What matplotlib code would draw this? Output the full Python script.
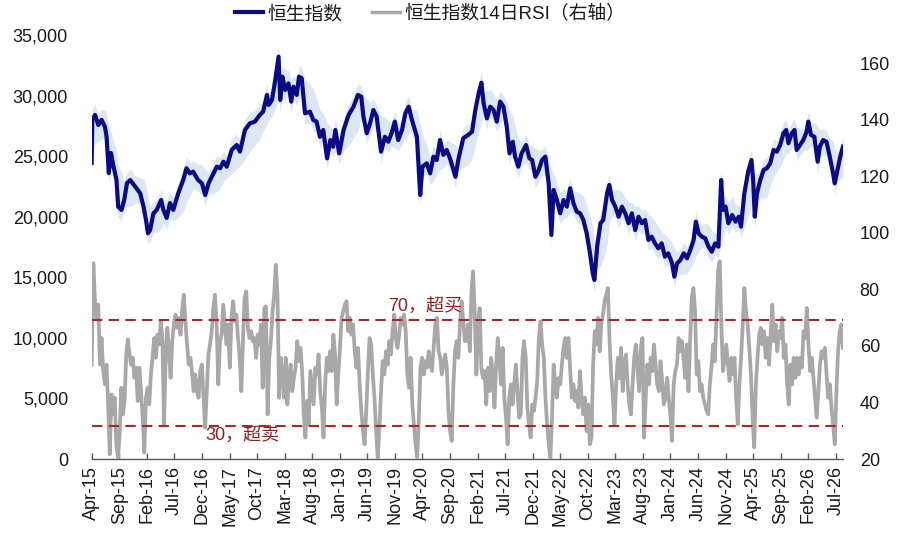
import numpy as np
import pandas as pd
import matplotlib
matplotlib.use("Agg")
import matplotlib.pyplot as plt
from matplotlib.ticker import FuncFormatter
from matplotlib.lines import Line2D

# ---------------- data ----------------
# x axis: months since Apr-2015
tick_labels = ['Apr-15', 'Sep-15', 'Feb-16', 'Jul-16', 'Dec-16', 'May-17', 'Oct-17',
               'Mar-18', 'Aug-18', 'Jan-19', 'Jun-19', 'Nov-19', 'Apr-20', 'Sep-20',
               'Feb-21', 'Jul-21', 'Dec-21', 'May-22', 'Oct-22', 'Mar-23', 'Aug-23',
               'Jan-24', 'Jun-24', 'Nov-24', 'Apr-25', 'Sep-25', 'Feb-26', 'Jul-26']
tick_step_months = 5
end_month = 136.3

# Hang Seng Index (sampled)
hsi_month = [0.0, 0.1, 0.6, 1.2, 1.8, 2.4, 2.7, 3.1, 3.5, 3.9, 4.5, 4.8, 5.4, 5.9, 6.4, 7.0,
             7.9, 8.8, 9.4, 9.9, 10.2, 10.6, 11.2, 11.8, 12.6, 13.0, 13.6, 14.2, 14.8, 15.7,
             16.6, 17.2, 17.8, 18.4, 19.3, 20.0, 20.6, 21.2, 22.1, 22.7, 23.3, 23.9, 24.5,
             25.4, 26.3, 26.9, 27.8, 28.7, 29.6, 30.5, 31.1, 31.8, 32.1, 32.7, 33.3, 33.9,
             34.2, 34.6, 35.1, 35.7, 36.2, 36.6, 37.2, 37.6, 38.1, 38.7, 39.6, 40.2, 40.8,
             41.4, 42.0, 42.7, 43.3, 43.8, 44.2, 44.9, 45.7, 46.6, 47.5, 48.3, 48.9, 49.3,
             49.9, 50.5, 51.1, 51.7, 52.5, 53.2, 53.8, 54.4, 55.0, 55.6, 56.3, 56.9, 57.5,
             58.1, 59.0, 59.6, 60.0, 60.8, 61.4, 62.0, 62.6, 63.2, 63.8, 64.4, 65.0, 66.0,
             66.5, 67.4, 68.3, 69.0, 69.6, 70.2, 70.7, 71.1, 71.7, 72.3, 72.9, 73.5, 74.1,
             74.7, 75.3, 75.8, 76.4, 76.8, 77.4, 78.0, 78.8, 79.4, 79.9, 80.5, 81.1, 81.7,
             82.3, 82.9, 83.4, 83.8, 84.4, 85.0, 85.6, 86.2, 86.8, 87.4, 88.0, 88.6, 89.2,
             89.8, 90.4, 90.9, 91.2, 91.7, 92.3, 92.8, 93.5, 93.9, 94.4, 95.0, 95.6, 96.2,
             96.8, 97.4, 98.0, 98.6, 99.2, 99.8, 100.4, 101.0, 101.6, 102.2, 102.8, 103.4,
             104.0, 104.6, 105.3, 105.7, 106.2, 106.8, 107.4, 108.0, 108.6, 109.2, 109.6,
             110.1, 110.7, 111.3, 111.9, 112.5, 113.1, 113.7, 114.2, 114.5, 115.0, 115.5,
             116.2, 116.8, 117.4, 117.8, 118.4, 119.1, 119.7, 120.0, 120.3, 120.7, 121.3,
             121.9, 122.5, 123.1, 123.7, 124.3, 124.9, 125.5, 126.0, 126.4, 127.0, 127.5,
             127.9, 128.5, 129.1, 129.7, 130.0, 130.5, 131.1, 131.7, 132.1, 132.7, 133.3,
             133.9, 134.5, 134.8, 135.3, 135.8, 136.3]
hsi_value = [24430, 27990, 28400, 27570, 27990, 27430, 26600, 23600, 25260, 24270, 23030,
             20830, 20560, 21380, 22780, 23030, 22480, 21930, 20830, 19590, 18630, 18900,
             20280, 20560, 21380, 20560, 19900, 21130, 20560, 21930, 23030, 24000, 23580,
             23720, 23030, 22760, 21790, 22760, 23580, 24130, 24000, 24540, 24130, 25510,
             25920, 25370, 27160, 27710, 27850, 28400, 28670, 30050, 29220, 29630, 31290,
             33210, 29630, 31560, 30460, 31010, 29500, 30730, 30050, 31560, 31430, 28540,
             28670, 27990, 27850, 26600, 27160, 24820, 26330, 25780, 27160, 25230, 27160,
             28400, 29080, 30050, 29910, 28260, 26890, 27710, 28810, 28260, 25370, 26600,
             26190, 26890, 27850, 26330, 27160, 28540, 29080, 27990, 26600, 21790, 24130,
             24410, 23580, 24960, 24680, 26330, 25100, 25510, 24820, 23300, 24680, 26470,
             26750, 27020, 28810, 30190, 31060, 29360, 28120, 29080, 28810, 27850, 29500,
             29080, 27430, 25230, 26190, 24960, 24130, 25230, 25920, 24820, 24680, 23300,
             23860, 24680, 24960, 22760, 18490, 22210, 21380, 20280, 21380, 20830, 22350,
             21110, 20420, 20280, 19730, 18630, 16980, 15330, 14780, 17530, 19460, 19730,
             21930, 22620, 21380, 20830, 20000, 20830, 20280, 19460, 20280, 18900, 20000,
             19460, 19730, 18080, 18350, 17800, 17390, 17800, 16700, 16980, 16150, 15050,
             16150, 16430, 16980, 16570, 17250, 18080, 19590, 18630, 18350, 18220, 17530,
             17110, 17800, 17530, 23030, 20560, 20830, 19460, 20140, 19590, 20000, 19180,
             21930, 23720, 24680, 23030, 20000, 21930, 23030, 23860, 24000, 24410, 25510,
             25370, 25920, 26890, 27160, 26060, 26890, 27160, 25510, 25920, 26330, 27020,
             27850, 26750, 26600, 24540, 25780, 26330, 26190, 24960, 23580, 22760, 23860,
             24960, 25780]

# 14-day RSI (evenly sampled over the whole period)
rsi_2015_2018 = [53.4, 89.3, 75.8, 69.9, 74.6, 53.4, 62.8, 51.1, 46.4, 53.4, 39.3, 21.7, 42.9,
                 35.8, 41.7, 25.2, 20.5, 28.8, 45.2, 35.8, 40.5, 57.0, 62.3, 57.0, 53.4, 55.8,
                 48.7, 52.3, 40.5, 52.3, 44.0, 34.6, 22.3, 41.7, 45.2, 39.3, 49.9, 55.8, 62.8,
                 55.8, 64.0, 60.5, 68.7, 62.8, 32.3, 55.8, 66.4, 58.1, 48.7, 61.7, 67.6, 71.1,
                 66.4, 69.9, 64.0, 72.3, 78.1, 68.7, 60.5, 53.4, 55.8, 51.1, 44.0, 49.9, 44.0,
                 41.7, 51.1, 53.4, 41.7, 31.1, 44.0, 57.0, 60.5, 65.2, 73.4, 78.1, 67.6, 46.4,
                 61.7, 64.0, 74.6, 67.6, 60.5, 67.6, 52.3, 69.9, 75.8, 68.7, 71.1, 62.8, 55.8,
                 44.0, 61.7, 77.0, 79.3, 66.4, 62.8, 65.2, 61.7, 62.8, 55.8, 64.0, 60.5, 67.6,
                 45.2, 73.4, 74.0, 35.8, 55.8, 61.7, 72.3, 78.1]
rsi_2018_2020 = [88.7, 78.1, 41.7, 55.8, 49.9, 41.7, 55.8, 39.3, 48.7, 53.4, 44.0, 48.7, 52.3,
                 61.7, 54.6, 59.3, 51.1, 35.8, 27.6, 40.5, 32.3, 51.1, 45.2, 39.3, 52.3, 49.9,
                 57.0, 44.0, 38.2, 27.6, 46.4, 55.8, 51.1, 58.1, 51.1, 64.0, 57.0, 39.3, 49.9,
                 59.3, 69.9, 72.3, 74.6, 75.8, 65.2, 69.9, 64.0, 67.6, 58.1, 52.3, 59.3, 46.4,
                 37.0, 29.9, 25.2, 37.0, 51.1, 62.8, 60.5, 49.9, 41.7, 29.9, 20.5, 31.1, 44.0,
                 54.6, 49.9, 58.1, 53.4, 61.7, 57.0, 65.2, 71.1, 62.8, 59.3, 64.0, 69.9, 67.6,
                 71.1, 65.2, 49.9, 45.2, 55.8, 39.3, 32.3, 25.2, 20.5, 34.6, 52.3, 55.8, 49.9,
                 54.6, 52.3, 58.1, 53.4, 51.1, 59.3, 67.6, 69.9, 58.1, 55.8, 49.9, 53.4, 57.0,
                 52.3, 37.0, 29.9, 26.4, 46.4, 58.1, 61.7, 55.8, 67.6, 75.8, 68.7, 61.7]
rsi_2020_2023 = [61.7, 67.6, 58.1, 79.3, 86.4, 71.1, 49.9, 67.6, 73.4, 52.3, 48.7, 51.1, 39.3,
                 52.3, 44.0, 55.8, 48.7, 38.2, 53.4, 62.8, 55.8, 46.4, 59.3, 41.7, 34.6, 25.2,
                 41.7, 46.4, 39.3, 46.4, 53.4, 44.0, 34.6, 35.8, 55.8, 61.7, 55.8, 38.2, 32.3,
                 27.6, 39.3, 37.0, 41.7, 47.6, 62.8, 68.7, 60.5, 55.8, 41.7, 32.3, 25.2, 20.5,
                 34.6, 53.4, 46.4, 41.7, 48.7, 46.4, 53.4, 59.3, 62.8, 55.8, 62.8, 52.3, 41.7,
                 46.4, 40.5, 44.0, 38.2, 51.1, 41.7, 35.8, 41.7, 29.9, 39.3, 25.2, 27.6, 53.4,
                 65.2, 60.5, 69.9, 58.1, 67.6, 71.1, 75.8, 78.1, 80.5, 61.7, 49.9, 41.7, 32.3,
                 46.4, 55.8, 48.7, 59.3, 44.0, 53.4, 57.0, 46.4, 39.3, 35.8, 46.4, 55.8, 60.5,
                 52.3, 44.0, 59.3, 62.8, 27.6, 41.7, 53.4, 46.4, 55.8, 51.1, 60.5, 53.4, 46.4]
rsi_2023_2026 = [44.0, 54.6, 47.6, 39.3, 41.7, 48.7, 41.7, 35.8, 26.4, 46.4, 51.1, 53.4, 62.8,
                 58.1, 61.7, 55.8, 48.7, 60.5, 44.0, 61.7, 77.0, 80.5, 72.3, 49.9, 54.6, 44.0,
                 46.4, 41.7, 39.3, 37.0, 35.8, 46.4, 52.3, 60.5, 54.6, 69.9, 86.4, 90.0, 67.6,
                 51.1, 55.8, 60.5, 53.4, 47.6, 55.8, 49.9, 55.8, 41.7, 32.3, 46.4, 55.8, 67.6,
                 80.5, 72.3, 67.6, 59.3, 49.9, 34.6, 24.1, 46.4, 55.8, 64.0, 66.4, 60.5, 65.2,
                 55.8, 62.8, 53.4, 64.0, 74.6, 61.7, 67.6, 58.1, 65.2, 62.8, 69.9, 55.8, 60.5,
                 46.4, 39.3, 53.4, 46.4, 55.8, 48.7, 55.8, 49.9, 55.8, 52.3, 65.2, 62.8, 73.4,
                 60.5, 51.1, 55.8, 48.7, 41.7, 34.6, 44.0, 53.4, 58.1, 55.8, 59.3, 49.9, 41.7,
                 46.4, 38.2, 32.3, 25.2, 44.0, 58.1, 65.2, 67.6, 59.3]

overbought_level = 69.0
oversold_level = 31.6
overbought_text = '70，超买'
oversold_text = '30，超卖'
legend_labels = ['恒生指数', '恒生指数14日RSI（右轴）']

# ---------------- style ----------------
plt.rcParams['font.family'] = ['Liberation Sans', 'Noto Sans CJK SC', 'DejaVu Sans']
NAVY = '#0b0b85'
BAND = '#dde6f3'
GREY = '#a8a8a8'
RED = '#a52a2a'
TXT = '#1a1a1a'
FS = 13

fig = plt.figure(figsize=(9.0, 5.49), dpi=100)
ax = fig.add_axes([91.7 / 900, 1 - 459 / 549, (843 - 91.7) / 900, (459 - 35) / 549])
ax2 = ax.twinx()

# lagging envelope band around the index
hsi = pd.Series(hsi_value, dtype=float)
lag = hsi.rolling(5, min_periods=1).mean()
upper = np.maximum(hsi, lag) + 900
lower = np.minimum(hsi, lag) - 900
ax.fill_between(hsi_month, lower, upper, color=BAND, lw=0, zorder=1)
ax.plot(hsi_month, hsi_value, color=NAVY, lw=3.0, solid_joinstyle='round', zorder=3)

rsi = np.array(rsi_2015_2018 + rsi_2018_2020 + rsi_2020_2023 + rsi_2023_2026)
rsi_month = np.linspace(0, end_month, len(rsi))
ax2.plot(rsi_month, rsi, color=GREY, lw=2.7, solid_joinstyle='round', zorder=2)
ax2.axhline(overbought_level, color=RED, lw=1.5, ls=(0, (5, 3)), zorder=4)
ax2.axhline(oversold_level, color=RED, lw=1.5, ls=(0, (5, 3)), zorder=4)
ax2.text(60.5, 73.6, overbought_text, color='#8e1f1f', fontsize=FS, ha='center', va='center')
ax2.text(27.3, 28.0, oversold_text, color='#8e1f1f', fontsize=FS, ha='center', va='center')

ax.set_xlim(0, end_month)
ax.set_ylim(0, 35000)
ax2.set_ylim(20, 170)
ax.set_yticks(np.arange(0, 35001, 5000))
ax.yaxis.set_major_formatter(FuncFormatter(lambda v, p: f'{v:,.0f}'))
ax2.set_yticks(np.arange(20, 161, 20))
ax.set_xticks(np.arange(len(tick_labels)) * tick_step_months)
ax.set_xticklabels(tick_labels, rotation=90)

for a in (ax, ax2):
    for s in ('top', 'left', 'right', 'bottom'):
        a.spines[s].set_visible(False)
ax.spines['bottom'].set_visible(True)
ax.spines['bottom'].set_color('#595959')
ax.spines['bottom'].set_linewidth(1.0)
ax.tick_params(axis='x', direction='in', length=4, width=1.0, color='#595959',
               labelsize=FS, labelcolor=TXT, pad=5)
ax.tick_params(axis='y', length=0, labelsize=FS, labelcolor=TXT, pad=17)
ax2.tick_params(axis='y', length=0, labelsize=FS, labelcolor=TXT, pad=12)

handles = [Line2D([], [], color=NAVY, lw=3.0), Line2D([], [], color=GREY, lw=2.5)]
fig.legend(handles, legend_labels, loc='center', bbox_to_anchor=(430 / 900, 1 - 14 / 549),
           ncol=2, frameon=False, fontsize=13.5, handlelength=1.5, handletextpad=0.2,
           columnspacing=1.6, labelcolor=TXT)

fig.savefig('out.png', dpi=100)
